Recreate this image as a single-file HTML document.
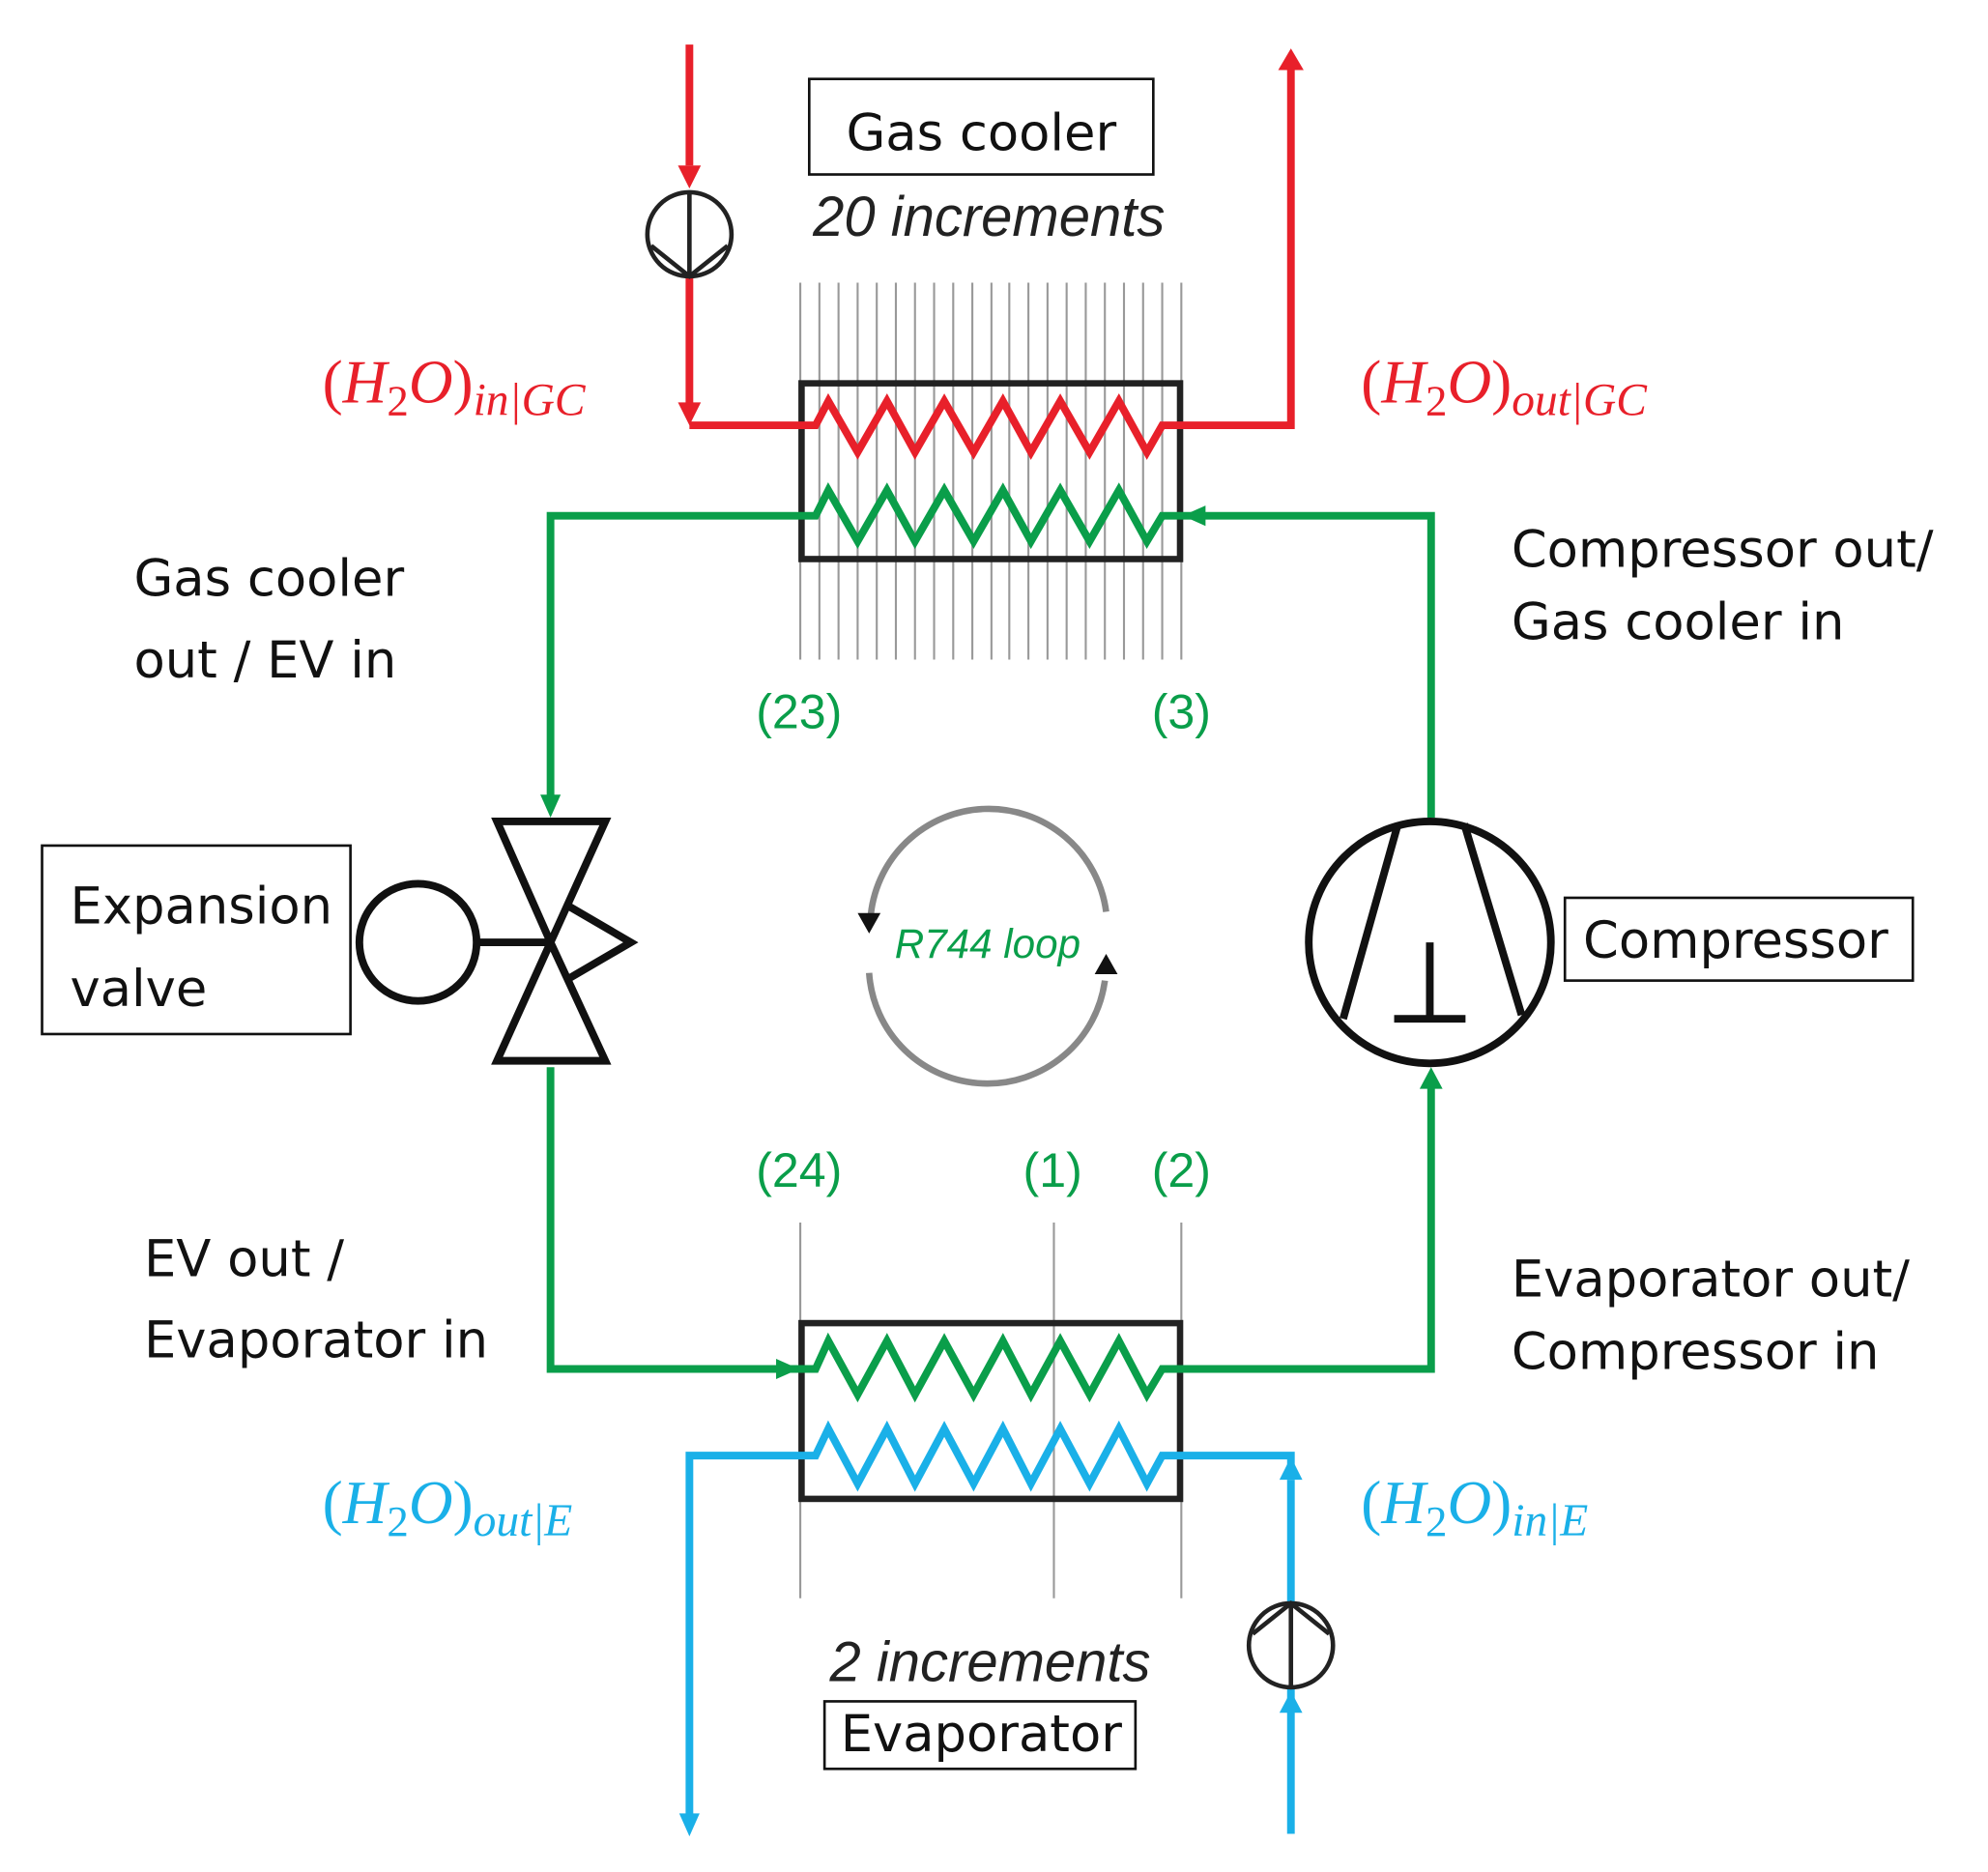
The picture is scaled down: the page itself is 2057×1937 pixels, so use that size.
<!DOCTYPE html>
<html><head><meta charset="utf-8"><style>html,body{margin:0;padding:0;background:#fff}svg{display:block}</style></head><body>
<svg width="2057" height="1937" viewBox="0 0 1560 1470" preserveAspectRatio="none" xmlns="http://www.w3.org/2000/svg">
<rect width="1560" height="1470" fill="#fff"/>
<g stroke="#999" stroke-width="1.6">
<line x1="628" y1="222" x2="628" y2="518"/><line x1="643" y1="222" x2="643" y2="518"/><line x1="658" y1="222" x2="658" y2="518"/><line x1="673" y1="222" x2="673" y2="518"/><line x1="688" y1="222" x2="688" y2="518"/><line x1="703" y1="222" x2="703" y2="518"/><line x1="718" y1="222" x2="718" y2="518"/><line x1="733" y1="222" x2="733" y2="518"/><line x1="748" y1="222" x2="748" y2="518"/><line x1="763" y1="222" x2="763" y2="518"/><line x1="778" y1="222" x2="778" y2="518"/><line x1="792" y1="222" x2="792" y2="518"/><line x1="807" y1="222" x2="807" y2="518"/><line x1="822" y1="222" x2="822" y2="518"/><line x1="837" y1="222" x2="837" y2="518"/><line x1="852" y1="222" x2="852" y2="518"/><line x1="867" y1="222" x2="867" y2="518"/><line x1="882" y1="222" x2="882" y2="518"/><line x1="897" y1="222" x2="897" y2="518"/><line x1="912" y1="222" x2="912" y2="518"/><line x1="927" y1="222" x2="927" y2="518"/>
<line x1="628" y1="960" x2="628" y2="1255"/><line x1="827" y1="960" x2="827" y2="1255"/><line x1="927" y1="960" x2="927" y2="1255"/>
</g>
<rect x="629" y="301" width="297" height="138" fill="none" stroke="#222" stroke-width="5"/>
<rect x="629" y="1039" width="297" height="138" fill="none" stroke="#222" stroke-width="5"/>
<g fill="none" stroke="#e8202a" stroke-width="6">
<polyline points="541,35 541,130"/>
<polyline points="541,218 541,325"/>
<polyline points="541,334 640,334 650,315 673,355 696,315 718,355 741,315 764,355 787,315 809,355 832,315 855,355 878,315 900,355 912,334 1013,334 1013,50"/>
</g>
<g fill="#e8202a"><polygon points="532,130 550,130 541,148"/><polygon points="532,316 550,316 541,334"/><polygon points="1003,55 1023,55 1013,38"/></g>
<g fill="none" stroke="#0a9e4a" stroke-width="6">
<polyline points="432,630 432,405 640,405 650,385 673,425 696,385 718,425 741,385 764,425 787,385 809,425 832,385 855,425 878,385 900,425 912,405 1123,405 1123,642"/>
<polyline points="432,838 432,1075 640,1075 650,1053 673,1095 696,1053 718,1095 741,1053 764,1095 787,1053 809,1095 832,1053 855,1095 878,1053 900,1095 912,1075 1123,1075 1123,850"/>
</g>
<g fill="#0a9e4a"><polygon points="424,624 440,624 432,642"/><polygon points="928,405 946,397 946,413"/><polygon points="1114,855 1132,855 1123,838"/><polygon points="627,1075 609,1067 609,1083"/></g>
<g fill="none" stroke="#1ab0e8" stroke-width="6">
<polyline points="541,1430 541,1143 640,1143 650,1122 673,1165 696,1122 718,1165 741,1122 764,1165 787,1122 809,1165 832,1122 855,1165 878,1122 900,1165 912,1143 1013,1143 1013,1160"/>
<polyline points="1013,1162 1013,1258"/>
<polyline points="1013,1326 1013,1440"/>
</g>
<g fill="#1ab0e8"><polygon points="533,1424 549,1424 541,1442"/><polygon points="1004,1162 1022,1162 1013,1144"/><polygon points="1004,1345 1022,1345 1013,1328"/></g>
<g fill="none" stroke="#222" stroke-width="3.5">
<circle cx="541" cy="184" r="33"/><line x1="541" y1="151" x2="541" y2="217"/><polyline points="511,193 541,217 571,193"/>
<circle cx="1013" cy="1292" r="33"/><line x1="1013" y1="1259" x2="1013" y2="1325"/><polyline points="983,1283 1013,1259 1043,1283"/>
</g>
<g fill="none" stroke="#111" stroke-width="6" stroke-linejoin="miter">
<polygon points="390,645 475,645 432,740"/>
<polygon points="390,833 475,833 432,740"/>
<polyline points="447,712 495,740 447,768"/>
<line x1="375" y1="740" x2="432" y2="740"/>
<circle cx="328" cy="740" r="46"/>
</g>
<rect x="33" y="664" width="242" height="148" fill="#fff" stroke="#111" stroke-width="2"/>
<g fill="none" stroke="#111" stroke-width="6">
<circle cx="1122" cy="740" r="95"/>
<line x1="1097" y1="647" x2="1054" y2="800"/>
<line x1="1149" y1="647" x2="1194" y2="797"/>
<line x1="1122" y1="740" x2="1122" y2="800"/>
<line x1="1094" y1="800" x2="1150" y2="800"/>
</g>
<rect x="1228" y="705" width="273" height="65" fill="#fff" stroke="#111" stroke-width="2"/>
<g fill="none" stroke="#888" stroke-width="5">
<path d="M 683 722 A 93 93 0 0 1 868 716"/>
<path d="M 682 764 A 93 93 0 0 0 867 770"/>
</g>
<polygon points="673,717 691,717 682,733" fill="#111"/>
<polygon points="859,765 877,765 868,749" fill="#111"/>
<text x="775" y="752" text-anchor="middle" font-family="Liberation Sans, sans-serif" font-style="italic" font-size="32" fill="#0a9e4a">R744 loop</text>
<rect x="635" y="62" width="270" height="75" fill="#fff" stroke="#111" stroke-width="2"/>
<rect x="647" y="1336" width="244" height="53" fill="#fff" stroke="#111" stroke-width="2"/>
<g font-family="DejaVu Sans, Liberation Sans, sans-serif" fill="#111" font-size="40">
<text x="770" y="118" text-anchor="middle">Gas cooler</text>
<text x="770" y="1375" text-anchor="middle">Evaporator</text>
<text x="1362" y="752" text-anchor="middle">Compressor</text>
<text x="55" y="725">Expansion</text>
<text x="55" y="790">valve</text>
<text x="105" y="468">Gas cooler</text>
<text x="105" y="532">out / EV in</text>
<text x="113" y="1002">EV out /</text>
<text x="113" y="1066">Evaporator in</text>
<text x="1186" y="445">Compressor out/</text>
<text x="1186" y="502">Gas cooler in</text>
<text x="1186" y="1018">Evaporator out/</text>
<text x="1186" y="1075">Compressor in</text>
</g>
<g font-family="Liberation Sans, sans-serif" font-style="italic" fill="#222" font-size="44">
<text x="776" y="185" text-anchor="middle">20 increments</text>
<text x="777" y="1320" text-anchor="middle">2 increments</text>
</g>
<g font-family="Liberation Sans, sans-serif" fill="#0a9e4a" font-size="38" text-anchor="middle">
<text x="627" y="572">(23)</text><text x="927" y="572">(3)</text>
<text x="627" y="932">(24)</text><text x="826" y="932">(1)</text><text x="927" y="932">(2)</text>
</g>
<g font-family="Liberation Serif, serif" font-size="48">
<text x="253" y="316" fill="#e8202a">(<tspan font-style="italic">H</tspan><tspan font-size="34" dy="10">2</tspan><tspan font-style="italic" dy="-10">O</tspan>)<tspan font-style="italic" font-size="36" dy="10">in|GC</tspan></text>
<text x="1068" y="316" fill="#e8202a">(<tspan font-style="italic">H</tspan><tspan font-size="34" dy="10">2</tspan><tspan font-style="italic" dy="-10">O</tspan>)<tspan font-style="italic" font-size="36" dy="10">out|GC</tspan></text>
<text x="253" y="1196" fill="#1ab0e8">(<tspan font-style="italic">H</tspan><tspan font-size="34" dy="10">2</tspan><tspan font-style="italic" dy="-10">O</tspan>)<tspan font-style="italic" font-size="36" dy="10">out|E</tspan></text>
<text x="1068" y="1196" fill="#1ab0e8">(<tspan font-style="italic">H</tspan><tspan font-size="34" dy="10">2</tspan><tspan font-style="italic" dy="-10">O</tspan>)<tspan font-style="italic" font-size="36" dy="10">in|E</tspan></text>
</g>
</svg>
</body></html>
